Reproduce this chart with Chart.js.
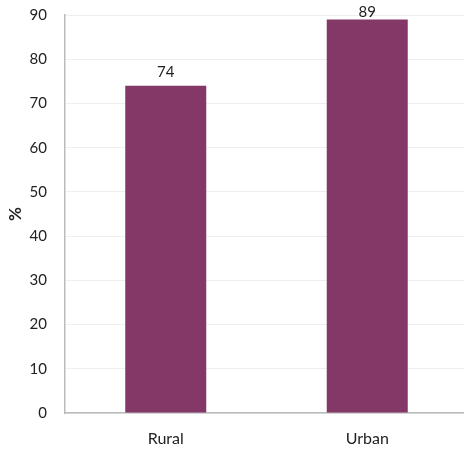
<!DOCTYPE html>
<html>
<head>
<meta charset="utf-8">
<script src="https://cdn.jsdelivr.net/npm/chart.js@4"></script>
<style>
  html, body { margin: 0; padding: 0; background: #fff; overflow: hidden; }
  #wrap { width: 464px; height: 449px; overflow: hidden; }
</style>
</head>
<body>
<div id="wrap"><canvas id="grafico" width="468" height="449"></canvas></div>
<script>
const categorias = ['Rural', 'Urban'];
const valores = [74, 89];
const ticksY = [0, 10, 20, 30, 40, 50, 60, 70, 80, 90];

// rótulos de valor acima das barras (descem um pouco se não couberem no topo)
const rotulos = {
    id: 'rotulos',
    afterDatasetsDraw(chart) {
        const c = chart.ctx;
        const meta = chart.getDatasetMeta(0);
        c.save();
        c.font = '15px Lato';
        c.fillStyle = '#222';
        c.textAlign = 'center';
        c.textBaseline = 'alphabetic';
        meta.data.forEach((bar, i) => {
            c.fillText(valores[i], bar.x, Math.max(bar.y - 9, 17));
        });
        c.restore();
    }
};

const ctx = document.getElementById('grafico').getContext('2d');

let grafico = new Chart(ctx, {
    type: 'bar',
    data: {
        labels: categorias,
        datasets: [
            {
                data: valores,
                backgroundColor: '#843868',
                barPercentage: 0.402,
                categoryPercentage: 1
            }
        ]
    },
    options: {
        responsive: false,
        animation: false,
        layout: { padding: { top: 15, right: 0, left: 0, bottom: 0 } },
        plugins: {
            legend: { display: false },
            tooltip: { enabled: false }
        },
        scales: {
            x: {
                grid: { display: false, drawTicks: false },
                border: { color: '#bbb', width: 1.5 },
                ticks: { color: '#222', font: { family: 'Lato', size: 16 }, padding: 16 },
                afterFit: axis => { axis.paddingLeft = 0; axis.paddingRight = 0; axis.height = 36; }
            },
            y: {
                min: 0,
                max: 90,
                afterBuildTicks: axis => { axis.ticks = ticksY.map(v => ({ value: v })); },
                afterFit: axis => { axis.paddingTop = 0; axis.paddingBottom = 0; axis.width = 65; },
                grid: { color: '#eee', drawTicks: false },
                border: { color: '#bbb', width: 1.5 },
                ticks: { color: '#222', font: { family: 'Lato', size: 15 }, padding: 18 },
                title: { display: true, text: '%', color: '#222', font: { family: 'Lato', size: 17, weight: 'bold' }, padding: { top: 5, bottom: 0 } }
            }
        }
    },
    plugins: [rotulos]
});
</script>
</body>
</html>
